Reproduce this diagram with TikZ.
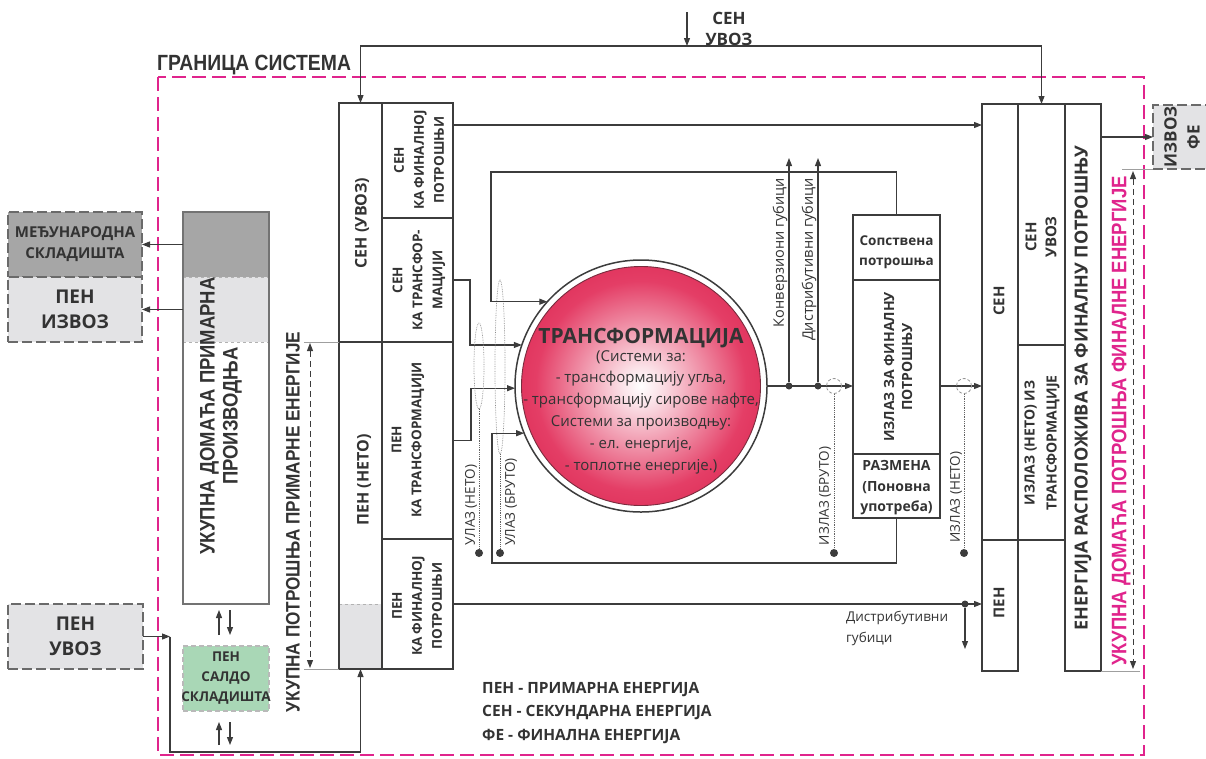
\documentclass[tikz,border=0pt]{standalone}
\usepackage{fontspec}
\setmainfont{Open Sans}
\newfontfamily\narrowsans[FakeStretch=0.88]{Liberation Sans}
\usetikzlibrary{arrows.meta,calc}

\definecolor{linec}{HTML}{3C3C3C}
\definecolor{txtc}{HTML}{333333}
\definecolor{darkfill}{HTML}{A6A6A6}
\definecolor{lightfill}{HTML}{E3E3E5}
\definecolor{saldofill}{HTML}{A9D7B6}
\definecolor{bordermag}{HTML}{E0248C}
\definecolor{dashgray}{HTML}{6A6A6A}
\definecolor{crim}{RGB}{212,20,64}
\definecolor{crimmid}{RGB}{228,62,102}

\pgfdeclareradialshading{transshade}{\pgfpoint{0bp}{0bp}}{%
  color(0bp)=(white); color(4bp)=(white!85!crimmid); color(22bp)=(crimmid);
  color(40bp)=(crim); color(70bp)=(crim)}

\newcommand{\sz}[2]{\fontsize{#1}{#2}\selectfont}

\begin{document}
\begin{tikzpicture}[x=1pt,y=-1pt,
  >={Triangle[length=8pt,width=6pt]},
  frame/.style={draw=linec,line width=1.8pt,inner sep=0pt,outer sep=0pt},
  dbox/.style={draw=dashgray,line width=2pt,dash pattern=on 10pt off 4pt,inner sep=0pt,outer sep=0pt},
  conn/.style={draw=linec,line width=1.1pt},
  thinline/.style={draw=gray!75,line width=0.8pt},
  lbl/.style={text=txtc,font=\bfseries\sz{14}{20},align=center,inner sep=0pt},
  rlbl/.style={lbl,rotate=90},
  note/.style={text=txtc,font=\sz{13.5}{16},inner sep=0pt,rotate=90},
  dot/.style={circle,fill=linec,minimum size=8pt,inner sep=0pt},
  ring/.style={circle,draw=gray!85,line width=0.8pt,densely dashed,minimum size=15pt,inner sep=0pt},
  dotted link/.style={draw=linec!80,line width=0.8pt,densely dotted},
  loop ring/.style={draw=gray!90,line width=0.7pt,densely dotted},
]
\useasboundingbox (0,0) rectangle (1206,758);

% ---------- system boundary ----------
\draw[bordermag,line width=2pt,dash pattern=on 14pt off 6pt] (158,77) rectangle (1144,755);
\node[anchor=west,text=txtc,font=\narrowsans\bfseries\sz{22}{24},inner sep=0pt] (granica) at (157,65) {ГРАНИЦА СИСТЕМА};

% ---------- left: production, stocks, trade ----------
\node[dbox,fill=darkfill,minimum width=134pt,minimum height=65pt] (msk) at (75,244.5) {};
\node[dbox,fill=lightfill,minimum width=134pt,minimum height=65pt] (pizv) at (75,309.5) {};
\node[lbl,font=\bfseries\sz{15}{21}] at (msk) {МЕЂУНАРОДНА\\СКЛАДИШТА};
\node[lbl,font=\bfseries\sz{19}{25}] at (pizv) {ПЕН\\ИЗВОЗ};

\fill[darkfill] (183,212) rectangle (269,277);
\fill[lightfill] (183,277) rectangle (269,342);
\draw[gray!60,line width=0.8pt,dashed] (183,277) -- (269,277) (183,342) -- (269,342);
\node[frame,draw=gray!90!black,minimum width=86pt,minimum height=392pt] (prod) at (226,408) {};
\node[rlbl,font=\narrowsans\bfseries\sz{21}{23}] (prodtxt) at (221,416) {УКУПНА ДОМАЋА ПРИМАРНА\\ПРОИЗВОДЊА};

\node[dbox,draw=gray!55,line width=1.4pt,dash pattern=on 5pt off 3pt,fill=saldofill,minimum width=86pt,minimum height=65pt] (saldo) at (226,678.5) {};
\node[lbl,font=\bfseries\sz{13.5}{20}] at (saldo) {ПЕН\\САЛДО\\СКЛАДИШТА};

\node[dbox,fill=lightfill,minimum width=135pt,minimum height=65pt] (uvoz) at (75.5,636.5) {};
\node[lbl,font=\bfseries\sz{19}{25}] at (uvoz) {ПЕН\\УВОЗ};

\draw[conn,->] (prod.west |- msk) -- (msk.east);
\draw[conn,->] (prod.west |- pizv) -- (pizv.east);

\draw[conn,->] ($(prod.south)+(-7,31)$) -- ($(prod.south)+(-7,6)$);
\draw[conn,->] ($(prod.south)+(4,6)$) -- ($(prod.south)+(4,31)$);
\draw[conn,->] ($(saldo.south)+(-7,34)$) -- ($(saldo.south)+(-7,11)$);
\draw[conn,->] ($(saldo.south)+(4,11)$) -- ($(saldo.south)+(4,34)$);

% ---------- middle column: primary and secondary energy ----------
\fill[lightfill] (339,604) rectangle (382,669);
\draw[gray!60,line width=0.8pt,dashed] (339,604) -- (382,604);
\node[frame,minimum width=43pt,minimum height=239pt] (sen) at (360.5,222.5) {};
\node[frame,minimum width=43pt,minimum height=327pt] (pen) at (360.5,505.5) {};
\node[frame,minimum width=71pt,minimum height=115pt] (senfin) at (417.5,160.5) {};
\node[frame,minimum width=71pt,minimum height=124pt] (sentr) at (417.5,280) {};
\node[frame,minimum width=71pt,minimum height=197pt] (pentr) at (417.5,440.5) {};
\node[frame,minimum width=71pt,minimum height=130pt] (penfin) at (417.5,604) {};

\node[rlbl,font=\bfseries\sz{16}{20}] at (362,223) {СЕН (УВОЗ)};
\node[rlbl,font=\bfseries\sz{16}{20}] at (364,480) {ПЕН (НЕТО)};
\node[rlbl,font=\bfseries\sz{13.5}{20}] at (419,160) {СЕН\\КА ФИНАЛНОЈ\\ПОТРОШЊИ};
\node[rlbl,font=\bfseries\sz{13.5}{20}] at (419,280) {СЕН\\КА ТРАНСФОР-\\МАЦИЈИ};
\node[rlbl,font=\bfseries\sz{13.5}{20}] at (408,440) {ПЕН\\КА ТРАНСФОРМАЦИЈИ};
\node[rlbl,font=\bfseries\sz{13.5}{20}] at (417,606) {ПЕН\\КА ФИНАЛНОЈ\\ПОТРОШЊИ};

% total primary energy supply
\draw[thinline] (sen.south west) -- ++(-35,0);
\draw[thinline] (pen.south west) -- ++(-35,0);
\coordinate (potTop) at (310,343);
\coordinate (potBot) at (310,668);
\draw[linec,line width=1pt,dash pattern=on 6pt off 4pt,<->] (potTop) -- (potBot);
\node[rlbl,font=\narrowsans\bfseries\sz{19.5}{23}] (potr) at (293,522) {УКУПНА ПОТРОШЊА ПРИМАРНЕ ЕНЕРГИЈЕ};

% imports of primary energy
\coordinate (uvozTip) at (170,636.5);
\coordinate (botRun) at (170,752);
\draw[conn,->] (uvoz.east) -- (uvozTip);
\draw[conn,->] (uvozTip) -- (botRun) -| (pen.south);

% ---------- transformation ----------
\node[circle,draw=linec,line width=1.5pt,fill=white,minimum size=252pt,inner sep=0pt,outer sep=0pt] (trans) at (641,386) {};
\node[circle,draw=linec!60!crim,line width=0.9pt,shading=transshade,minimum size=239pt,inner sep=0pt] (transcore) at (trans) {};
\node[text=txtc,font=\bfseries\sz{21}{24},inner sep=0pt] (transtitle) at (641,338) {ТРАНСФОРМАЦИЈА};
\node[text=txtc,font=\sz{15}{21.8},align=center,inner sep=0pt] (transbody) at (641,412)
  {(Системи за:\\- трансформацију угља,\\- трансформацију сирове нафте,\\Системи за производњу:\\- ел. енергије,\\- топлотне енергије.)};

% inputs to transformation
\draw[conn,->] (sentr.east) -- ++(17,0) |- (trans.161);
\draw[conn,->] (pentr.east) -- ++(18,0) |- (trans.181);

% input brackets
\draw[loop ring] (479,366) ellipse[x radius=5, y radius=43];
\draw[loop ring] (500,367) ellipse[x radius=5, y radius=87];
\node[dot] (inNet) at (479,553) {};
\node[dot] (inGross) at (500,553) {};
\draw[dotted link] (479,409) -- (inNet);
\draw[dotted link] (500,454) -- (inGross);
\node[note] at (471,505) {УЛАЗ (НЕТО)};
\node[note] at (511,502) {УЛАЗ (БРУТО)};

% ---------- output side ----------
\node[frame,minimum width=87pt,minimum height=65pt] (sop) at (896.5,247.5) {};
\node[frame,minimum width=87pt,minimum height=174pt] (izf) at (896.5,367) {};
\node[frame,minimum width=87pt,minimum height=64pt] (razm) at (896.5,486) {};
\node[lbl,font=\bfseries\sz{13.5}{20}] at (896.5,252) {Сопствена\\потрошња};
\node[rlbl,font=\bfseries\sz{14}{18}] at (898,367) {ИЗЛАЗ ЗА ФИНАЛНУ\\ПОТРОШЊУ};
\node[lbl,font=\bfseries\sz{14}{20.5}] at (896.5,488) {РАЗМЕНА\\(Поновна\\употреба)};

% own use and reuse loops back into transformation
\coordinate (loopA) at (491,172);
\coordinate (loopB) at (492,563);
\draw[conn,->] (sop.north) |- (loopA) |- (trans.138);
\draw[conn,->] (razm.south) |- (loopB) |- (trans.202);

% gross output and losses
\coordinate (lossA) at (789,158);
\coordinate (lossB) at (818,158);
\node[dot,minimum size=7pt] (convDot) at (789,386) {};
\node[dot,minimum size=7pt] (distDot) at (818,386) {};
\draw[conn,->] (trans.east) -- (trans.east -| izf.west);
\draw[conn,->] (convDot) -- (lossA);
\draw[conn,->] (distDot) -- (lossB);
\node[note,font=\sz{14.5}{16},anchor=east] at (780,178) {Конверзиони губици};
\node[note,font=\sz{14.5}{16},anchor=east] at (809,178) {Дистрибутивни губици};

\node[ring] (grossRing) at (834,386) {};
\node[dot] (outGross) at (834,553) {};
\draw[dotted link] (grossRing.south) -- (outGross);
\node[note] at (825,496) {ИЗЛАЗ (БРУТО)};

% ---------- final energy available ----------
\node[frame,minimum width=36pt,minimum height=436pt] (rsen) at (1000,322) {};
\node[frame,minimum width=36pt,minimum height=131pt] (rpen) at (1000,605.5) {};
\node[frame,minimum width=47pt,minimum height=241pt] (rsu) at (1041.5,224.5) {};
\node[frame,minimum width=47pt,minimum height=195pt] (riz) at (1041.5,442.5) {};
\node[frame,minimum width=36pt,minimum height=567pt] (reng) at (1083,387.5) {};

\node[rlbl,font=\bfseries\sz{15}{20}] at (999,301) {СЕН};
\node[rlbl,font=\bfseries\sz{15}{20}] at (999,603) {ПЕН};
\node[rlbl,font=\bfseries\sz{15}{20}] at (1041,237) {СЕН\\УВОЗ};
\node[rlbl,font=\bfseries\sz{14}{22}] at (1042,443) {ИЗЛАЗ (НЕТО) ИЗ\\ТРАНСФОРМАЦИЈЕ};
\node[rlbl,font=\bfseries\sz{18}{22}] at (1083,388) {ЕНЕРГИЈА РАСПОЛОЖИВА ЗА ФИНАЛНУ ПОТРОШЊУ};

\draw[conn,->] (izf.east |- trans.east) -- (trans.east -| rsen.west);
\node[ring] (netRing) at (964,386) {};
\node[dot] (outNet) at (964,553) {};
\draw[dotted link] (netRing.south) -- (outNet);
\node[note] at (956,497) {ИЗЛАЗ (НЕТО)};

% secondary energy straight to final consumption
\draw[conn,->] ($(senfin.north east)+(0,22)$) coordinate (c1s) -- (c1s -| rsen.west);
% primary energy straight to final consumption
\node[dot,minimum size=7pt] (penDist) at (965,604) {};
\coordinate (penLoss) at (965,649);
\draw[conn,->] (penfin.east) -- (penfin.east -| rpen.west);
\draw[conn,->] (penDist) -- (penLoss);
\node[anchor=north west,align=left,text=txtc,font=\sz{13.5}{21},inner sep=0pt] (distTxt) at (846,611) {Дистрибутивни\\губици};

% imports of secondary energy
\coordinate (topJoin) at (687,46);
\coordinate (senImp) at (687,12);
\draw[conn,<->] (sen.north) |- (topJoin) -| (rsu.north);
\draw[conn,->] (senImp) -- (topJoin);
\node[lbl,font=\bfseries\sz{17}{21}] (senImpTxt) at (729,29) {СЕН\\УВОЗ};

% exports of final energy
\node[dbox,fill=lightfill,minimum width=62pt,minimum height=64pt] (fe) at (1184,137) {};
\node[rlbl,font=\bfseries\sz{17}{23}] at (1182,137) {ИЗВОЗ\\ФЕ};
\draw[conn,->] (reng.east |- fe.west) -- (fe.west);

% total final energy consumption
\draw[thinline] (fe.south west) -- ++(-31,0);
\draw[thinline] (reng.south east) -- ++(39,0);
\coordinate (finTop) at (1133,171);
\coordinate (finBot) at (1133,669);
\draw[linec,line width=1pt,dash pattern=on 6pt off 4pt,<->] (finTop) -- (finBot);
\node[rlbl,text=bordermag,font=\narrowsans\bfseries\sz{21}{24}] (fintxt) at (1121,421) {УКУПНА ДОМАЋА ПОТРОШЊА ФИНАЛНЕ ЕНЕРГИЈЕ};

% ---------- legend ----------
\node[anchor=north west,align=left,text=txtc,font=\bfseries\sz{15.5}{23.5},inner sep=0pt] (legend) at (482,682)
  {ПЕН - ПРИМАРНА ЕНЕРГИЈА\\СЕН - СЕКУНДАРНА ЕНЕРГИЈА\\ФЕ - ФИНАЛНА ЕНЕРГИЈА};
\end{tikzpicture}
\end{document}
